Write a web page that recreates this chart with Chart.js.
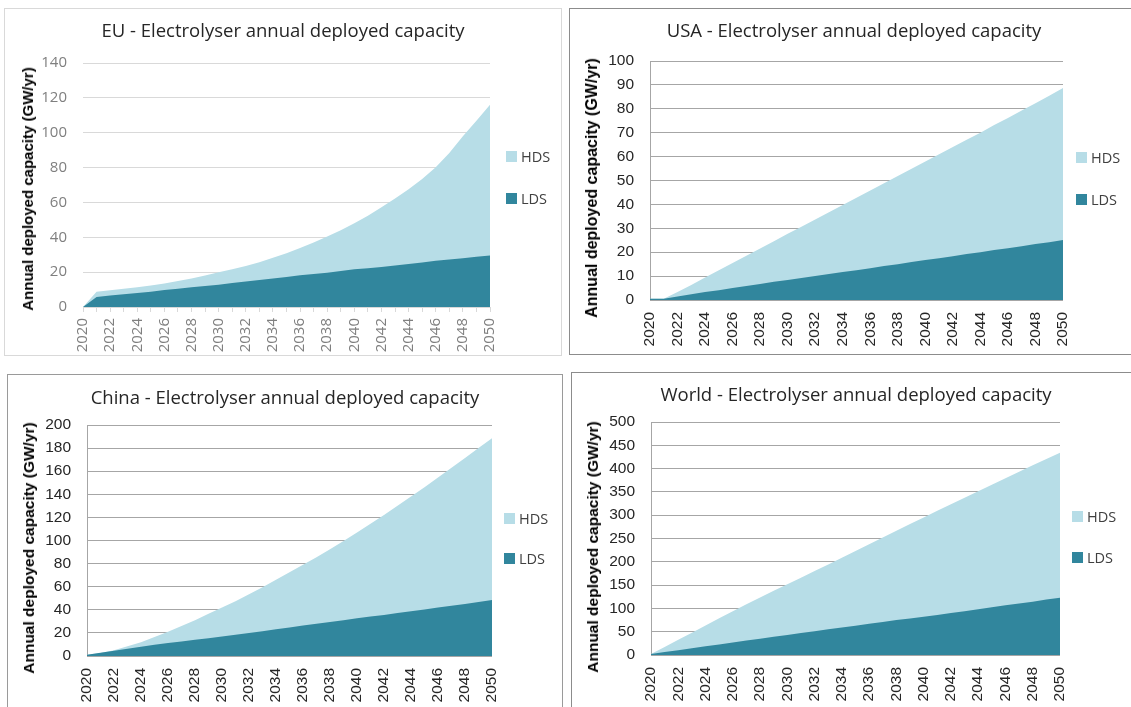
<!DOCTYPE html>
<html>
<head>
<meta charset="utf-8">
<script src="https://cdn.jsdelivr.net/npm/chart.js@4.4.1/dist/chart.umd.min.js"></script>
<style>
  html, body { margin: 0; padding: 0; background: #fff; }
  body { width: 1131px; height: 707px; overflow: hidden; position: relative; }
  .panel { position: absolute; box-sizing: border-box; border: 1px solid #999; background: #fff; }
  canvas { position: absolute; }
  .ttl { position: absolute; text-align: center; font-family: "Open Sans", sans-serif; font-size: 18.5px; color: #262626; white-space: nowrap; line-height: 24px; height: 24px; }
  .ytl { position: absolute; font-family: "Liberation Sans", Arial, sans-serif; font-weight: bold; color: #000; white-space: nowrap; transform: translate(-50%, -50%) rotate(-90deg); line-height: 18px; }
  .sq { position: absolute; width: 11px; height: 11px; }
  .lt { position: absolute; font-family: "Open Sans", sans-serif; font-size: 14.5px; color: #404040; line-height: 18px; white-space: nowrap; }
</style>
</head>
<body>
<script>
// ---------- data ----------
const years = ['2020','2021','2022','2023','2024','2025','2026','2027','2028','2029','2030',
               '2031','2032','2033','2034','2035','2036','2037','2038','2039','2040',
               '2041','2042','2043','2044','2045','2046','2047','2048','2049','2050'];

const seriesNames = ['HDS', 'LDS'];
const yAxisTitle = 'Annual deployed capacity (GW/yr)';

const euTitle = 'EU - Electrolyser annual deployed capacity';
const euHDS = [0, 8.8, 9.6, 10.5, 11.4, 12.4, 13.5, 14.9, 16.4, 18.1, 19.9,
               21.6, 23.5, 25.7, 28.2, 30.9, 33.8, 37, 40.4, 44, 48,
               52.4, 57.2, 62.2, 67.6, 73.5, 80.2, 88.4, 98, 106.8, 116];
const euLDS = [0, 5.8, 6.6, 7.3, 8, 8.8, 9.7, 10.5, 11.3, 12, 12.8,
               13.7, 14.6, 15.5, 16.3, 17.2, 18.2, 18.9, 19.7, 20.6, 21.6,
               22.3, 23, 23.8, 24.7, 25.5, 26.5, 27.3, 28, 28.8, 29.6];
const euYTicks = [0, 140, 20];

const usaTitle = 'USA - Electrolyser annual deployed capacity';
const usaHDS = [0.5, 0.5, 3.3, 6.3, 9.4, 12.4, 15.5, 18.5, 21.6, 24.6, 27.7,
                30.7, 33.7, 36.7, 39.8, 42.8, 45.8, 48.9, 51.9, 54.9, 58,
                61, 64, 67, 70, 73.2, 76.2, 79.3, 82.3, 85.5, 88.7];
const usaLDS = [0.5, 0.5, 1.5, 2.4, 3.3, 4.1, 5.0, 5.9, 6.7, 7.6, 8.4,
                9.2, 10.0, 10.9, 11.7, 12.5, 13.3, 14.2, 15.0, 15.9, 16.7,
                17.5, 18.3, 19.2, 20.0, 20.9, 21.7, 22.5, 23.4, 24.2, 25.1];
const usaYTicks = [0, 100, 10];

const chinaTitle = 'China - Electrolyser annual deployed capacity';
const chinaHDS = [1, 2.5, 5, 8.5, 12, 16.5, 21, 26, 31, 36.5, 42,
                  47.5, 53.5, 59.5, 66, 72.5, 79, 85.5, 92.5, 99.5, 107,
                  114.5, 122, 130, 138, 146, 154.5, 163, 171.5, 180, 188.5];
const chinaLDS = [1, 2.8, 4.6, 6.3, 8, 9.7, 11.2, 12.6, 14, 15.4, 16.8,
                  18.3, 19.9, 21.5, 23.1, 24.7, 26.3, 27.9, 29.5, 31, 32.6,
                  34.1, 35.6, 37.2, 38.7, 40.3, 41.9, 43.5, 45.1, 46.8, 48.5];
const chinaYTicks = [0, 200, 20];

const worldTitle = 'World - Electrolyser annual deployed capacity';
const worldHDS = [2, 17, 32.5, 48, 63.5, 79, 94, 109, 123.5, 138, 152,
                  166, 180, 194, 208.5, 223, 237.5, 252, 266.5, 281, 295,
                  309.5, 323.5, 337.5, 351.5, 365.5, 379.5, 393.5, 407, 420.5, 434];
const worldLDS = [2, 6.2, 10.4, 14.5, 18.6, 22.7, 26.8, 30.9, 35, 39, 43,
                  47, 51, 55, 59, 63, 67, 71, 75, 78.5, 82,
                  86, 90, 94, 98, 102.5, 106.5, 110.5, 114.5, 119, 123];
const worldYTicks = [0, 500, 50];

// ---------- styles / layout ----------
const HDS_COLOR = '#B7DDE7';
const LDS_COLOR = '#31869D';

const panels = [
  { title: euTitle, hds: euHDS, lds: euLDS, yt: euYTicks,
    box: [4, 8, 558, 348], border: '#d9d9d9', area: { l: 83, r: 490, t: 63, b: 307 },
    tc: [283, 30], yc: [28, 188.5], yfs: 15, lg: { x: 506, h: 151, l: 193 }, eu: true },
  { title: usaTitle, hds: usaHDS, lds: usaLDS, yt: usaYTicks,
    box: [569, 8, 570, 347], border: '#8c8c8c', area: { l: 650, r: 1063, t: 61, b: 300 },
    tc: [853, 30], yc: [592, 187.5], yfs: 16, lg: { x: 1076, h: 152, l: 194 }, eu: false },
  { title: chinaTitle, hds: chinaHDS, lds: chinaLDS, yt: chinaYTicks,
    box: [7, 374, 556, 340], border: '#9a9a9a', area: { l: 87, r: 492, t: 425, b: 656 },
    tc: [285, 397], yc: [29, 547.5], yfs: 15.5, lg: { x: 504, h: 513, l: 553 }, eu: false },
  { title: worldTitle, hds: worldHDS, lds: worldLDS, yt: worldYTicks,
    box: [571, 372, 570, 340], border: '#8c8c8c', area: { l: 651, r: 1060, t: 422, b: 655 },
    tc: [852, 393.5], yc: [593, 546.5], yfs: 15.5, lg: { x: 1072, h: 511, l: 552 }, eu: false }
];

function el(tag, cls, css, text) {
  const e = document.createElement(tag);
  if (cls) e.className = cls;
  Object.assign(e.style, css);
  if (text !== undefined) e.textContent = text;
  document.body.appendChild(e);
  return e;
}

function build(p) {
  const [bx, by, bw, bh] = p.box;
  el('div', 'panel', { left: bx + 'px', top: by + 'px', width: bw + 'px', height: bh + 'px', borderColor: p.border });

  const W = bw - 2, H = bh - 2, ox = bx + 1, oy = by + 1;
  const c = document.createElement('canvas');
  c.width = W; c.height = H;
  Object.assign(c.style, { left: ox + 'px', top: oy + 'px', width: W + 'px', height: H + 'px' });
  document.body.appendChild(c);

  const L = p.area.l - ox, R = p.area.r - ox, T = p.area.t - oy, B = p.area.b - oy;

  const tickFont = p.eu ? { family: '"Open Sans", sans-serif', size: 15 } : { family: '"Liberation Sans", Arial, sans-serif', size: 15.5 };
  const tickColor = p.eu ? '#7f7f7f' : '#262626';
  const gridColor = p.eu ? '#d9d9d9' : '#a6a6a6';

  new Chart(c, {
    type: 'line',
    data: {
      labels: years,
      datasets: [
        { label: seriesNames[1], data: p.lds, backgroundColor: LDS_COLOR, borderColor: 'rgba(0,0,0,0)', borderWidth: 0, pointRadius: 0, fill: 'origin', order: 0, tension: 0 },
        { label: seriesNames[0], data: p.hds, backgroundColor: HDS_COLOR, borderColor: 'rgba(0,0,0,0)', borderWidth: 0, pointRadius: 0, fill: 'origin', order: 1, tension: 0 }
      ]
    },
    options: {
      responsive: false, animation: false, devicePixelRatio: 1,
      layout: { padding: { left: 0, top: T, right: W - R, bottom: 0 } },
      plugins: { legend: { display: false }, title: { display: false }, tooltip: { enabled: false } },
      scales: {
        x: {
          offset: false,
          grid: p.eu
            ? { display: true, drawOnChartArea: false, drawTicks: true, tickLength: 5, color: gridColor, lineWidth: 1 }
            : { display: false, drawTicks: false },
          border: { display: false },
          ticks: {
            autoSkip: false, minRotation: 90, maxRotation: 90,
            padding: p.eu ? 6 : 12, color: tickColor, font: tickFont,
            callback: (v, i) => (i % 2 === 0 ? years[i] : '')
          },
          afterFit: s => { s.height = H - B; }
        },
        y: {
          min: p.yt[0], max: p.yt[1],
          grid: { color: gridColor, lineWidth: 1, drawTicks: false },
          border: p.eu ? { display: false } : { display: true, color: gridColor, width: 1 },
          ticks: { stepSize: p.yt[2], padding: 16, color: tickColor, font: tickFont },
          afterFit: s => { s.width = L; }
        }
      }
    }
  });

  // chart title
  el('div', 'ttl', { left: bx + 'px', width: bw + 'px', top: (p.tc[1] - 12) + 'px' }, p.title);
  // y-axis title
  el('div', 'ytl', { left: p.yc[0] + 'px', top: p.yc[1] + 'px', fontSize: p.yfs + 'px' }, yAxisTitle);
  // legend
  el('div', 'sq', { left: p.lg.x + 'px', top: p.lg.h + 'px', background: HDS_COLOR });
  el('div', 'lt', { left: (p.lg.x + 15) + 'px', top: (p.lg.h - 3) + 'px' }, seriesNames[0]);
  el('div', 'sq', { left: p.lg.x + 'px', top: p.lg.l + 'px', background: LDS_COLOR });
  el('div', 'lt', { left: (p.lg.x + 15) + 'px', top: (p.lg.l - 3) + 'px' }, seriesNames[1]);
}

panels.forEach(build);
</script>
</body>
</html>
